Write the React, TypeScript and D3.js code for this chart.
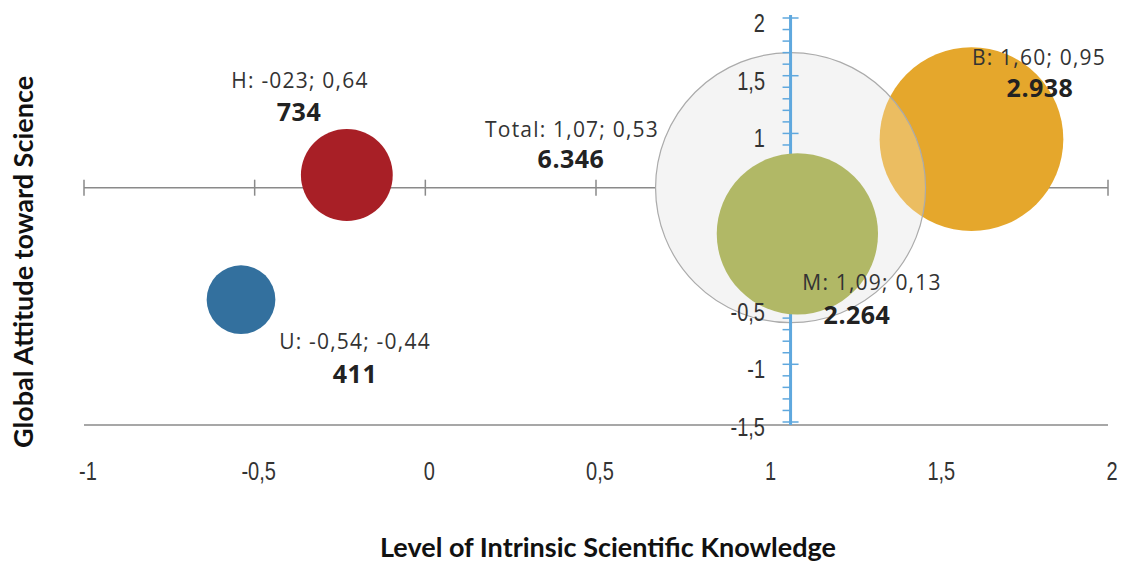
import React from "react";
import * as d3 from "d3";

const groups = ["U", "H", "M", "B"];
const xValues = [-0.54, -0.23, 1.09, 1.6];
const yValues = [-0.44, 0.64, 0.13, 0.95];
const counts = [411, 734, 2264, 2938];
const coordLabels = ["U: -0,54; -0,44", "H: -023; 0,64", "M: 1,09; 0,13", "B: 1,60; 0,95"];
const countLabels = ["411", "734", "2.264", "2.938"];
const colors = ["#33709E", "#A81F26", "#B1B866", "#E5A72C"];

const total = { x: 1.07, y: 0.53, n: 6346, label: "Total: 1,07; 0,53", count: "6.346" };

const xTicks = [-1, -0.5, 0, 0.5, 1, 1.5, 2];
const xTickLabels = ["-1", "-0,5", "0", "0,5", "1", "1,5", "2"];
const yLabelTicks = [-1.5, -1, -0.5, 1, 1.5, 2];
const yTickLabels = ["-1,5", "-1", "-0,5", "1", "1,5", "2"];

const W = 1125;
const H = 564;
const tickFont = "'Liberation Sans', Arial, sans-serif";
const labelFont = "'Open Sans', sans-serif";

function NarrowText(props: { x: number; y: number; anchor: string; children: React.ReactNode }) {
  return (
    <g transform={`translate(${props.x},${props.y}) scale(0.8,1)`}>
      <text x={0} y={0} textAnchor={props.anchor} fontFamily={tickFont} fontSize={25} fill="#333">
        {props.children}
      </text>
    </g>
  );
}

export default function App() {
  const x = d3.scaleLinear().domain([-1, 2]).range([84, 1108]);
  const y = d3.scaleLinear().domain([-1.5, 2]).range([422, 18]);
  const r = d3.scaleSqrt().domain([0, total.n]).range([0, 135]);

  const axisY = y(total.y);
  const axisX = x(total.x);
  const minor = d3.range(-15, 21).map((v) => v / 10);

  const labelPos: Record<string, [number, number, number, number]> = {
    U: [355, 349, 355, 383],
    H: [300, 88, 299, 121],
    M: [872, 290, 857, 324],
    B: [1039, 65, 1040, 97],
  };

  const idx = (g: string) => groups.indexOf(g);
  const bubble = (g: string) => {
    const i = idx(g);
    return <circle key={g} cx={x(xValues[i])} cy={y(yValues[i])} r={r(counts[i])} fill={colors[i]} />;
  };
  const label = (g: string) => {
    const i = idx(g);
    const p = labelPos[g];
    return (
      <g key={"l" + g}>
        <text x={p[0]} y={p[1]} textAnchor="middle" fontFamily={labelFont} fontSize={21} fill="#333" letterSpacing={1.2}>
          {coordLabels[i]}
        </text>
        <text x={p[2]} y={p[3]} textAnchor="middle" fontFamily={labelFont} fontSize={25} fontWeight={700} fill="#222" letterSpacing={0.5}>
          {countLabels[i]}
        </text>
      </g>
    );
  };

  return (
    <svg width={W} height={H} style={{ position: "absolute", left: 0, top: 0, display: "block" }}>
      <rect width={W} height={H} fill="#fff" />
      <line x1={x(-1)} x2={x(2)} y1={axisY} y2={axisY} stroke="#8a8a8a" strokeWidth={1.5} />
      {xTicks.map((t) => (
        <line key={"xt" + t} x1={x(t)} x2={x(t)} y1={axisY - 8} y2={axisY + 8} stroke="#8a8a8a" strokeWidth={1.5} />
      ))}
      <line x1={x(-1)} x2={x(2)} y1={425} y2={425} stroke="#8a8a8a" strokeWidth={1.5} />
      {xTicks.map((t, i) => (
        <NarrowText key={"xl" + t} x={x(t) + 4} y={480} anchor="middle">
          {xTickLabels[i]}
        </NarrowText>
      ))}
      <circle cx={axisX} cy={axisY} r={r(total.n)} fill="#f0f0f0" />
      {bubble("B")}
      <circle cx={axisX} cy={axisY} r={r(total.n)} fill="#ffffff" fillOpacity={0.25} stroke="#ababab" strokeWidth={1.2} />
      <line x1={axisX} x2={axisX} y1={15} y2={425} stroke="#5FA8DE" strokeWidth={3} />
      {minor.map((t) => {
        const major = Math.abs(t * 2 - Math.round(t * 2)) < 1e-6;
        return (
          <line
            key={"yt" + t}
            x1={axisX - 8}
            x2={major ? axisX + 8 : axisX}
            y1={y(t)}
            y2={y(t)}
            stroke="#5FA8DE"
            strokeWidth={1.5}
          />
        );
      })}
      {bubble("M")}
      {bubble("H")}
      {bubble("U")}
      {yLabelTicks.map((t, i) => (
        <NarrowText key={"yl" + t} x={765} y={y(t) + 14} anchor="end">
          {yTickLabels[i]}
        </NarrowText>
      ))}
      {groups.map(label)}
      <text x={572} y={137} textAnchor="middle" fontFamily={labelFont} fontSize={21} fill="#333" letterSpacing={1.2}>
        {total.label}
      </text>
      <text x={571} y={168} textAnchor="middle" fontFamily={labelFont} fontSize={25} fontWeight={700} fill="#222" letterSpacing={0.5}>
        {total.count}
      </text>
      <text x={608} y={557} textAnchor="middle" fontFamily="Lato, sans-serif" fontWeight={700} fontSize={27} fill="#111">
        Level of Intrinsic Scientific Knowledge
      </text>
      <text
        transform={`translate(33, 262) rotate(-90)`}
        textAnchor="middle"
        fontFamily="Lato, sans-serif"
        fontWeight={700}
        fontSize={27}
        fill="#111"
      >
        Global Attitude toward Science
      </text>
    </svg>
  );
}
